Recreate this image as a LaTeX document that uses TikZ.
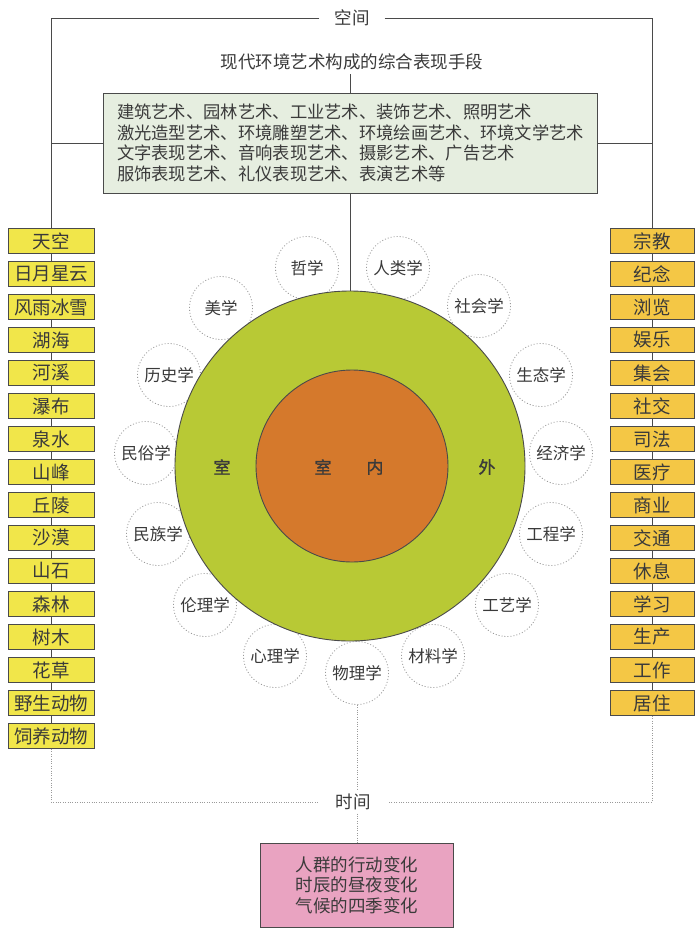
\documentclass[tikz,border=0pt]{standalone}
\usepackage{fontspec}
\newfontfamily\cjk{Noto Sans CJK SC}
\newfontfamily\cjkb{Noto Sans CJK SC}[FakeBold=1.2]
\usetikzlibrary{positioning,backgrounds}
\definecolor{SkyYellow}{HTML}{F1E64A}
\definecolor{UseGold}{HTML}{F4C745}
\definecolor{PaleGreen}{HTML}{E6EEE0}
\definecolor{RingGreen}{HTML}{B8C935}
\definecolor{CoreOrange}{HTML}{D5792C}
\definecolor{TimePink}{HTML}{E9A3C1}
\definecolor{LineGray}{HTML}{4A4A4A}
\definecolor{DotGray}{HTML}{9A9A9A}
\definecolor{TextGray}{HTML}{3A3A3A}
\tikzset{
  conn/.style={LineGray, line width=0.9pt},
  dotline/.style={DotGray, line width=0.9pt, dash pattern=on 1pt off 1.4pt},
  discring/.style={DotGray, line width=0.8pt, dash pattern=on 1pt off 2pt},
  natbox/.style={draw=LineGray, line width=0.9pt, fill=SkyYellow, minimum width=86, minimum height=25, inner sep=0, text=TextGray, font=\cjk\fontsize{18.5}{18.5}\selectfont},
  usebox/.style={natbox, fill=UseGold, minimum width=84},
  disc/.style={circle, minimum size=63, inner sep=0, text=TextGray, font=\cjk\fontsize{16.5}{16.5}\selectfont},
  lbl/.style={text=TextGray, font=\cjk\fontsize{17.5}{17.5}\selectfont},
}

\begin{document}
\begin{tikzpicture}[x=1pt, y=-1pt]
\useasboundingbox (0,0) rectangle (697,929);

% Space
\node[lbl, inner xsep=15] (kongjian) at (352,18) {空间};
\node[lbl] (title) at (352,62) {现代环境艺术构成的综合表现手段};
\node[draw=LineGray, line width=0.9pt, fill=PaleGreen, text width=466, inner xsep=14, minimum height=100, align=left, text=TextGray, font=\cjk\fontsize{17.3}{20.5}\selectfont] (arts) at (350,143)
  {建筑艺术、园林艺术、工业艺术、装饰艺术、照明艺术\\
   激光造型艺术、环境雕塑艺术、环境绘画艺术、环境文学艺术\\
   文字表现艺术、音响表现艺术、摄影艺术、广告艺术\\
   服饰表现艺术、礼仪表现艺术、表演艺术等};

% Nature (left) and use (right)
\foreach \t [count=\i] in {天空,日月星云,风雨冰雪,湖海,河溪,瀑布,泉水,山峰,丘陵,沙漠,山石,森林,树木,花草,野生动物,饲养动物}
  \node[natbox] (L\i) at (51,208+33*\i) {\t};
\foreach \t [count=\i] in {宗教,纪念,浏览,娱乐,集会,社交,司法,医疗,商业,交通,休息,学习,生产,工作,居住}
  \node[usebox] (R\i) at (652,208+33*\i) {\t};
\foreach \i [remember=\i as \p (initially 1)] in {2,...,16}
  \draw[conn] (L\p) -- (L\i);
\foreach \i [remember=\i as \p (initially 1)] in {2,...,15}
  \draw[conn] (R\p) -- (R\i);

% Rings
\node[circle, draw=LineGray, line width=0.9pt, fill=RingGreen, minimum size=350, inner sep=0] (outer) at (350,466) {};
\node[circle, draw=LineGray, line width=0.9pt, fill=CoreOrange, minimum size=192, inner sep=0] (inner) at (352,466) {};
\node[lbl, font=\cjkb\fontsize{17}{17}\selectfont] (shiL) at (222,467) {室};
\node[lbl, font=\cjkb\fontsize{17}{17}\selectfont] (shiIn) at (323,467) {室};
\node[lbl, font=\cjkb\fontsize{17}{17}\selectfont] (nei) at (375,467) {内};
\node[lbl, font=\cjkb\fontsize{17}{17}\selectfont] (wai) at (487,467) {外};

% Disciplines
\node[disc] (d1) at (307,268) {哲学};
\node[disc] (d2) at (398,268) {人类学};
\node[disc] (d3) at (221,308) {美学};
\node[disc] (d4) at (479,306) {社会学};
\node[disc] (d5) at (169,375) {历史学};
\node[disc] (d6) at (541,375) {生态学};
\node[disc] (d7) at (146,453) {民俗学};
\node[disc] (d8) at (561,453) {经济学};
\node[disc] (d9) at (158,534) {民族学};
\node[disc] (d10) at (551,534) {工程学};
\node[disc] (d11) at (205,605) {伦理学};
\node[disc] (d12) at (507,605) {工艺学};
\node[disc] (d13) at (275,656) {心理学};
\node[disc] (d14) at (433,656) {材料学};
\node[disc] (d15) at (357,673) {物理学};

% Time
\node[lbl, inner xsep=17] (shijian) at (353,802) {时间};
\node[draw=LineGray, line width=0.9pt, fill=TimePink, minimum width=193, minimum height=84, align=center, text=TextGray, font=\cjk\fontsize{17.5}{20.5}\selectfont] (change) at (357,885)
  {人群的行动变化\\时辰的昼夜变化\\气候的四季变化};

% Connectors
\draw[conn] (kongjian.west) -| (L1.north);
\draw[conn] (kongjian.east) -| (R1.north);
\draw[conn] (arts.north) -- (arts.north |- title.south);
\draw[conn] (arts.west) -- (arts.west -| L1.north);
\draw[conn] (arts.east) -- (arts.east -| R1.north);
\draw[conn] (arts.south) -- (outer.north);
\draw[dotline] (L16.south) |- (shijian.west);
\draw[dotline] (R15.south) |- (shijian.east);
\draw[dotline] (d15.south) -- (d15.south |- shijian.north);
\draw[dotline] (change.north |- shijian.south) -- (change.north);

\begin{scope}[on background layer]
  \fill[white] (0,0) rectangle (697,929);
  \foreach \n in {1,...,15}
    \draw[discring] (d\n.center) circle (31.5);
\end{scope}
\end{tikzpicture}
\end{document}
